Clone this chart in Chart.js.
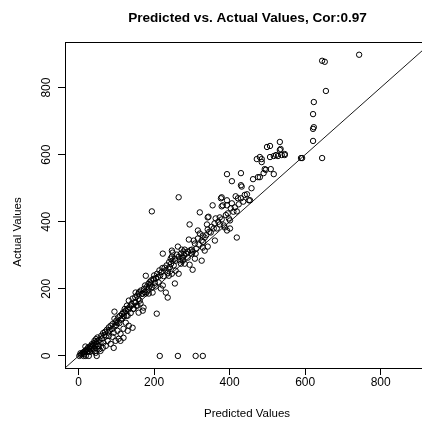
<!DOCTYPE html>
<html><head><meta charset="utf-8">
<script src="https://cdn.jsdelivr.net/npm/chart.js@4"></script>
<style>
html,body{margin:0;padding:0;overflow:hidden;background:#fff;width:422px;height:421px}
#wrap{width:440px;height:421px;position:relative}
</style>
</head><body><div id="wrap"><canvas id="c" width="440" height="421"></canvas></div>
<script>
const titleText = "Predicted vs. Actual Values, Cor:0.97";
const xTitle = "Predicted Values";
const yTitle = "Actual Values";
const tickValues = [0, 200, 400, 600, 800];
const axisMin = -36, axisMax = 936;

const predicted = [
  2,5,8,10,12,14,15,18,20,22,24,25,27,28,30,32,33,35,36,38,40,40,42,44,45,46,48,50,50,52,
  13,19,27,48,5,18,30,44,55,58,
  37,45,50,53,58,64,66,72,55,60,
  62,65,68,70,72,75,77,78,80,80,82,85,85,88,90,90,93,93,95,95,95,98,98,100,100,103,103,105,106,108,
  110,111,111,112,115,115,118,119,119,120,122,122,125,125,127,128,130,130,130,132,133,133,135,138,138,140,143,143,145,146,
  148,150,151,151,153,155,156,158,159,159,160,162,164,165,168,170,170,172,173,175,176,178,178,180,182,185,186,186,188,190,
  191,192,194,195,196,198,199,200,202,204,205,207,208,210,212,214,215,216,218,220,222,223,223,225,228,230,231,233,236,236,
  238,239,240,242,244,245,247,247,247,249,249,252,255,255,257,257,260,263,263,265,265,265,268,271,271,273,273,276,276,278,
  280,281,281,285,289,289,292,294,294,296,300,300,302,302,305,308,308,310,310,312,
  316,316,318,321,321,326,326,329,329,329,330,334,334,338,340,342,342,342,344,346,350,352,355,358,360,361,363,366,370,374,
  374,377,379,379,379,382,385,387,390,393,393,393,393,395,398,401,401,403,406,406,410,414,416,419,419,422,424,430,430,432,
  430,436,440,446,451,454,458,
  462,472,475,480,480,485,485,490,493,496,499,507,507,509,517,517,523,528,533,533,535,538,546,546,589,592,621,621,623,621,623,645,645,652,655,743
];
const actual = [
  0,3,5,8,10,12,6,15,18,12,20,25,15,22,28,20,30,35,25,32,38,22,45,30,40,50,36,45,55,30,
  0,0,0,0,8,28,12,15,20,15,
  15,9,21,30,40,24,39,30,48,60,
  52,68,62,72,58,78,45,70,60,85,76,36,90,80,57,95,69,24,88,111,132,45,100,92,105,75,99,115,51,98,
  120,66,45,108,125,112,130,81,54,118,129,140,99,135,120,150,75,141,120,138,90,165,145,150,128,155,84,171,140,141,
  160,175,159,189,150,180,150,170,129,186,190,165,156,195,185,135,186,144,200,190,210,186,239,205,195,215,186,204,220,210,
  216,225,431,205,189,230,228,240,218,207,232,126,245,235,219,255,0,240,201,250,262,210,305,238,263,255,189,270,174,248,
  260,239,280,265,290,275,245,296,314,284,308,270,216,290,254,284,302,326,0,245,296,473,285,275,305,293,317,284,293,311,
  300,275,317,305,293,311,347,272,392,315,305,317,257,311,344,290,335,305,0,320,
  350,374,332,365,428,284,344,0,323,359,340,314,353,360,392,326,377,413,415,370,368,385,449,380,395,344,410,380,400,392,
  413,470,407,446,473,449,389,383,420,374,449,464,542,425,410,380,404,440,455,521,430,443,476,353,431,470,452,470,509,505,
  545,460,480,482,464,464,500,
  527,587,533,533,593,578,587,545,557,555,623,593,626,557,542,596,599,596,614,638,617,599,602,599,590,590,641,677,682,721,757,590,880,877,790,898
];
const refLine = [axisMin, axisMax];

const points = predicted.map((p, i) => ({ x: p, y: actual[i] }));
const linePts = refLine.map(v => ({ x: v, y: v }));

const FONT = '"Liberation Sans", Arial, sans-serif';

const decor = {
  id: 'decor',
  afterDraw(chart) {
    const ctx = chart.ctx;
    const a = chart.chartArea;
    const xs = chart.scales.x, ys = chart.scales.y;
    ctx.save();
    ctx.strokeStyle = '#000';
    ctx.lineWidth = 1;
    ctx.strokeRect(Math.round(a.left) + 0.5, Math.round(a.top) + 0.5,
      Math.round(a.right - a.left), Math.round(a.bottom - a.top));
    ctx.fillStyle = '#000';
    ctx.textAlign = 'center';
    ctx.textBaseline = 'middle';
    ctx.font = 'bold 13.6px ' + FONT;
    ctx.fillText(titleText, 247.5, 18);
    ctx.font = '11.5px ' + FONT;
    ctx.fillText(xTitle, 247, 414);
    ctx.font = '12px ' + FONT;
    tickValues.forEach(v => {
      ctx.fillText(String(v), xs.getPixelForValue(v), 383);
    });
    tickValues.forEach(v => {
      ctx.save();
      ctx.translate(47, ys.getPixelForValue(v));
      ctx.rotate(-Math.PI / 2);
      ctx.fillText(String(v), 0, 0);
      ctx.restore();
    });
    ctx.font = '11.5px ' + FONT;
    ctx.save();
    ctx.translate(18, 232);
    ctx.rotate(-Math.PI / 2);
    ctx.fillText(yTitle, 0, 0);
    ctx.restore();
    ctx.restore();
  }
};

new Chart(document.getElementById('c'), {
  type: 'scatter',
  data: {
    datasets: [
      {
        type: 'scatter',
        data: points,
        pointRadius: 2.7,
        pointHoverRadius: 2.7,
        borderWidth: 1,
        borderColor: '#000',
        backgroundColor: 'rgba(0,0,0,0)'
      },
      {
        type: 'line',
        data: linePts,
        borderColor: '#000',
        borderWidth: 0.9,
        pointRadius: 0,
        fill: false
      }
    ]
  },
  options: {
    responsive: false,
    animation: false,
    events: [],
    layout: { padding: { top: 42, right: 8, bottom: 0, left: 0 } },
    plugins: { legend: { display: false }, tooltip: { enabled: false }, title: { display: false } },
    scales: {
      x: {
        type: 'linear', min: axisMin, max: axisMax,
        afterBuildTicks: s => { s.ticks = tickValues.map(v => ({ value: v })); },
        afterFit: s => { s.height = 53; },
        ticks: { color: 'rgba(0,0,0,0)', font: { size: 11 } },
        grid: { drawOnChartArea: false, drawTicks: true, tickLength: 7, color: '#000', lineWidth: 1 },
        border: { display: false }
      },
      y: {
        type: 'linear', min: axisMin, max: axisMax,
        afterBuildTicks: s => { s.ticks = tickValues.map(v => ({ value: v })); },
        afterFit: s => { s.width = 65; },
        ticks: { color: 'rgba(0,0,0,0)', font: { size: 11 } },
        grid: { drawOnChartArea: false, drawTicks: true, tickLength: 7, color: '#000', lineWidth: 1 },
        border: { display: false }
      }
    }
  },
  plugins: [decor]
});
</script>
</body></html>
